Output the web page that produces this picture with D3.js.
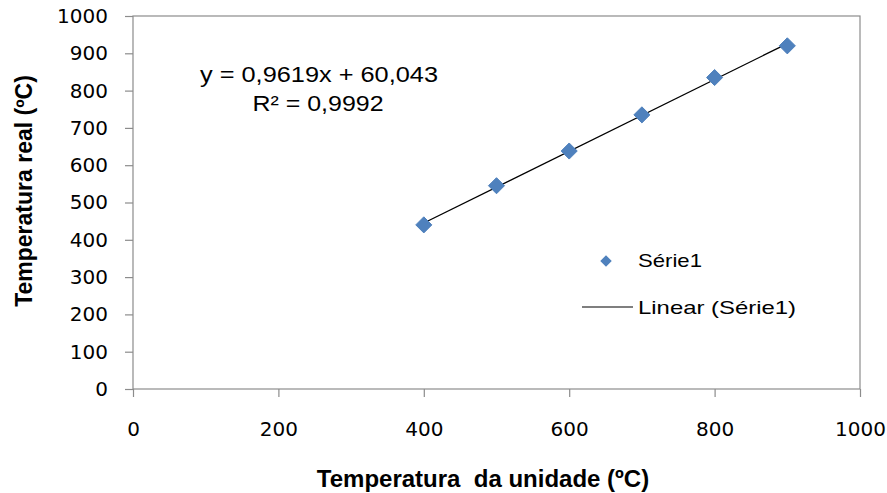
<!DOCTYPE html>
<meta charset="utf-8">
<script src="https://cdn.jsdelivr.net/npm/d3@7"></script>
<style>
  body { margin: 0; background: #fff; }
  text { font-family: "Liberation Sans", Arial, sans-serif; fill: #000; }
</style>
<body>
<script>

var width = 887
var height = 493

// dados
var unidade = [400, 500, 600, 700, 800, 900]
var real = [440, 545, 638, 735, 835, 920]
var xTicks = [0, 200, 400, 600, 800, 1000]
var yTicks = [0, 100, 200, 300, 400, 500, 600, 700, 800, 900, 1000]

var x = d3.scaleLinear().domain([0, 1000]).range([133, 860])
var y = d3.scaleLinear().domain([0, 1000]).range([389, 16])

var svg = d3.select("body").append("svg")
            .attr("width", width)
            .attr("height", height)

// caixa da area de plotagem
svg.append("rect")
   .attr("x", x(0)).attr("y", y(1000))
   .attr("width", x(1000) - x(0)).attr("height", y(0) - y(1000))
   .attr("fill", "none").attr("stroke", "#8c8c8c").attr("stroke-width", 1.2)

var xAxis = svg.append("g")
    .attr("transform", "translate(0," + y(0) + ")")
    .call(d3.axisBottom(x).tickValues(xTicks).tickSize(8).tickPadding(25).tickFormat(d3.format("d")))
var yAxis = svg.append("g")
    .attr("transform", "translate(" + x(0) + ",0)")
    .call(d3.axisLeft(y).tickValues(yTicks).tickSize(8).tickPadding(17).tickFormat(d3.format("d")))

;[xAxis, yAxis].forEach(function(a) {
  a.select(".domain").remove()
  a.selectAll("line").attr("stroke", "#8c8c8c").attr("stroke-width", 1.2)
  a.selectAll("text").style("font-size", "20px").style("font-family", "'DejaVu Sans', Verdana, sans-serif")
})

// regressao linear
var mx = d3.mean(unidade), my = d3.mean(real)
var sxy = d3.sum(unidade, function(d, i) { return (d - mx) * (real[i] - my) })
var sxx = d3.sum(unidade, function(d) { return (d - mx) * (d - mx) })
var slope = sxy / sxx
var icpt = my - slope * mx
var xr = d3.extent(unidade)

svg.append("line")
   .attr("x1", x(xr[0])).attr("y1", y(slope * xr[0] + icpt))
   .attr("x2", x(xr[1])).attr("y2", y(slope * xr[1] + icpt))
   .attr("stroke", "#000").attr("stroke-width", 1.3)

var diamond = d3.symbol().type(d3.symbolDiamond2).size(165)

svg.append("g").selectAll("path")
   .data(unidade)
   .join("path")
   .attr("d", diamond)
   .attr("transform", function(d, i) { return "translate(" + x(d) + "," + y(real[i]) + ")" })
   .attr("fill", "#4f81bd")
   .attr("stroke", "#4f81bd").attr("stroke-width", 1)

// equacao
svg.append("text").attr("x", 319).attr("y", 82).attr("text-anchor", "middle")
   .attr("textLength", 238).attr("lengthAdjust", "spacingAndGlyphs")
   .style("font-size", "22px").text("y = 0,9619x + 60,043")
svg.append("text").attr("x", 318).attr("y", 111).attr("text-anchor", "middle")
   .attr("textLength", 131).attr("lengthAdjust", "spacingAndGlyphs")
   .style("font-size", "22px").text("R² = 0,9992")

// legenda
svg.append("path").attr("d", d3.symbol().type(d3.symbolDiamond2).size(85))
   .attr("transform", "translate(606,261)").attr("fill", "#4f81bd")
svg.append("text").attr("x", 638).attr("y", 267)
   .attr("textLength", 64).attr("lengthAdjust", "spacingAndGlyphs")
   .style("font-size", "19px").text("Série1")
svg.append("line").attr("x1", 582).attr("x2", 633).attr("y1", 307).attr("y2", 307)
   .attr("stroke", "#000").attr("stroke-width", 1.2)
svg.append("text").attr("x", 638).attr("y", 314)
   .attr("textLength", 158).attr("lengthAdjust", "spacingAndGlyphs")
   .style("font-size", "19px").text("Linear (Série1)")

// titulos
svg.append("text")
   .attr("transform", "translate(483,487)")
   .attr("text-anchor", "middle")
   .style("font-size", "24px").style("font-weight", "bold").style("white-space", "pre")
   .text("Temperatura  da unidade (ºC)")

svg.append("text")
   .attr("transform", "translate(32,191) rotate(-90)")
   .attr("text-anchor", "middle")
   .style("font-size", "23px").style("font-weight", "bold")
   .text("Temperatura real (ºC)")

</script>
</body>
